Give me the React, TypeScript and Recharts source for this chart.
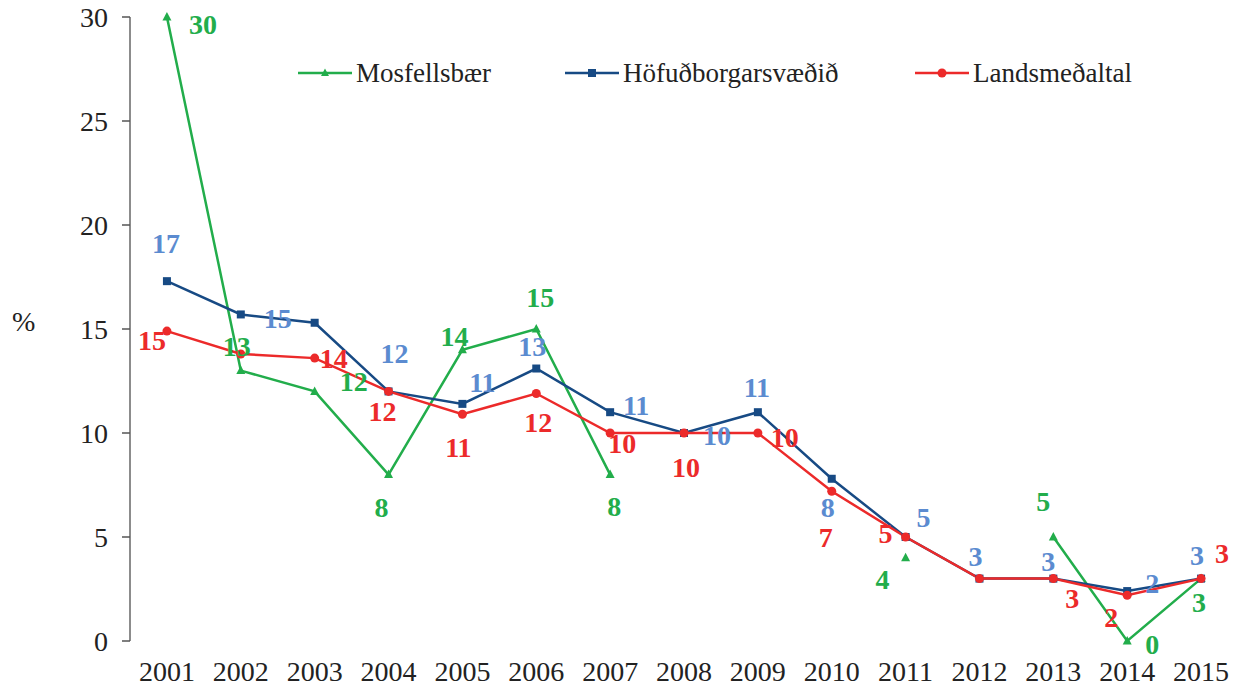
import React from 'react';
import { LineChart, Line, XAxis, YAxis, LabelList } from 'recharts';

const years = ['2001', '2002', '2003', '2004', '2005', '2006', '2007', '2008', '2009', '2010', '2011', '2012', '2013', '2014', '2015'];
const mosfellsbaer = [30, 13, 12, 8, 14, 15, 8, null, null, null, 4, null, 5, 0, 3];
const hofudborgarsvaedid = [17.3, 15.7, 15.3, 12, 11.4, 13.1, 11, 10, 11, 7.8, 5, 3, 3, 2.4, 3];
const landsmedaltal = [14.9, 13.8, 13.6, 12, 10.9, 11.9, 10, 10, 10, 7.2, 5, 3, 3, 2.2, 3];
const yTicks = [0, 5, 10, 15, 20, 25, 30];

// label placement relative to each point (null = no label shown)
type Off = [number, number] | null;
const greenOff: Off[] = [[36, 7], [-4, -24], [39, -10], [-7, 33], [-8, -14], [4, -32], [4, 32], null, null, null, [-23, 21], null, [-10, -36], [25, 3], [-2, 24]];
const blueOff: Off[] = [[-1, -38], null, [-37, -5], [6, -38], [20, -22], [-4, -22], [26, -7], [33, 2], [-1, -25], [-4, 28], [18, -20], [-4, -22], [-5, -17], [25, -8], [-4, -23]];
const redOff: Off[] = [[-15, 9], null, [19, 0], [-6, 20], [-4, 33], [2, 29], [12, 10], [2, 34], [27, 4], [-6, 46], [-20, -4], null, [19, 20], [-16, 22], [21, -25]];

const data = years.map((y, i) => ({
  i,
  year: y,
  mos: mosfellsbaer[i],
  hof: hofudborgarsvaedid[i],
  land: landsmedaltal[i],
}));

const edgeTicks = years.map((_, k) => k - 0.5).concat(years.length - 0.5);
const catTicks = years.map((_, k) => k);

const FONT = '"Liberation Serif", "Times New Roman", serif';
const GREEN = '#22ad4b';
const NAVY = '#174a84';
const RED = '#ec2a2a';
const BLUE_LBL = '#5b8bd0';

const makeLabel = (offs: Off[], color: string) => (props: any) => {
  const { x, y, value, index } = props;
  const o = offs[index];
  if (value == null || !o) return null;
  return (
    <text
      x={x + o[0]}
      y={y + o[1]}
      dy="0.35em"
      textAnchor="middle"
      fill={color}
      fontFamily={FONT}
      fontWeight="bold"
      fontSize={28}
    >
      {Math.round(value)}
    </text>
  );
};

const triDot = (p: any) => {
  const { cx, cy, index, value } = p;
  if (value == null || cy == null) return <g key={`t-${index}`} />;
  return <path key={`t-${index}`} d={`M${cx},${cy - 5}L${cx - 4.5},${cy + 3.5}L${cx + 4.5},${cy + 3.5}Z`} fill={GREEN} />;
};
const sqDot = (p: any) => {
  const { cx, cy, index } = p;
  if (cy == null) return <g key={`s-${index}`} />;
  return <rect key={`s-${index}`} x={cx - 4} y={cy - 4} width={8} height={8} fill={NAVY} />;
};
const circDot = (p: any) => {
  const { cx, cy, index } = p;
  if (cy == null) return <g key={`c-${index}`} />;
  return <circle key={`c-${index}`} cx={cx} cy={cy} r={4.5} fill={RED} />;
};

const legendItems = [
  { name: 'Mosfellsbær', color: GREEN, left: 290, mark: 'tri' },
  { name: 'Höfuðborgarsvæðið', color: NAVY, left: 557, mark: 'sq' },
  { name: 'Landsmeðaltal', color: RED, left: 907, mark: 'circ' },
];

const App = () => {
  return (
    <div style={{ position: 'relative', width: 1233, height: 687, marginTop: -8 }}>
      <LineChart width={1233} height={687} data={data} margin={{ top: 17, right: 3, left: 0, bottom: 0 }} style={{ overflow: 'visible' }}>
        <XAxis
          xAxisId="edge"
          dataKey="i"
          type="number"
          domain={[-0.5, years.length - 0.5]}
          ticks={edgeTicks}
          interval={0}
          tickFormatter={() => ''}
          height={0}
          tickSize={9}
          axisLine={{ stroke: '#000', strokeWidth: 1.5 }}
          tickLine={{ stroke: '#000', strokeWidth: 1.5 }}
          allowDataOverflow
        />
        <XAxis
          xAxisId="lab"
          dataKey="i"
          type="number"
          domain={[-0.5, years.length - 0.5]}
          ticks={catTicks}
          interval={0}
          tickFormatter={(v: number) => years[v]}
          height={46}
          axisLine={false}
          tickLine={false}
          tickSize={6}
          tickMargin={14}
          tick={{ fill: '#222', fontSize: 28, fontFamily: FONT }}
          allowDataOverflow
        />
        <YAxis
          domain={[0, 30]}
          ticks={yTicks}
          interval={0}
          width={122}
          tickSize={8}
          tickMargin={14}
          axisLine={{ stroke: '#8c8c8c', strokeWidth: 2 }}
          tickLine={{ stroke: '#555', strokeWidth: 1.5 }}
          tick={{ fill: '#222', fontSize: 28, fontFamily: FONT }}
          label={{ value: '%', position: 'insideLeft', offset: 4, dy: -8, fill: '#222', fontSize: 28, fontFamily: FONT }}
        />
        <Line xAxisId="lab" dataKey="mos" stroke={GREEN} strokeWidth={2.5} dot={triDot} activeDot={false} connectNulls={false} isAnimationActive={false}>
          <LabelList dataKey="mos" content={makeLabel(greenOff, GREEN)} />
        </Line>
        <Line xAxisId="lab" dataKey="hof" stroke={NAVY} strokeWidth={2.5} dot={sqDot} activeDot={false} isAnimationActive={false}>
          <LabelList dataKey="hof" content={makeLabel(blueOff, BLUE_LBL)} />
        </Line>
        <Line xAxisId="lab" dataKey="land" stroke={RED} strokeWidth={2.5} dot={circDot} activeDot={false} isAnimationActive={false}>
          <LabelList dataKey="land" content={makeLabel(redOff, RED)} />
        </Line>
      </LineChart>
      {legendItems.map((it) => (
        <div
          key={it.name}
          style={{ position: 'absolute', left: it.left, top: 57, display: 'flex', alignItems: 'center', height: 32 }}
        >
          <svg width={54} height={12}>
            <line x1={0} y1={6} x2={54} y2={6} stroke={it.color} strokeWidth={2.5} />
            {it.mark === 'tri' && <path d="M27,1.5L23,9L31,9Z" fill={it.color} />}
            {it.mark === 'sq' && <rect x={23} y={2} width={8} height={8} fill={it.color} />}
            {it.mark === 'circ' && <circle cx={27} cy={6} r={4.5} fill={it.color} />}
          </svg>
          <span style={{ marginLeft: 4, fontFamily: FONT, fontSize: 27, color: '#222', lineHeight: '32px' }}>{it.name}</span>
        </div>
      ))}
    </div>
  );
};

export default App;
